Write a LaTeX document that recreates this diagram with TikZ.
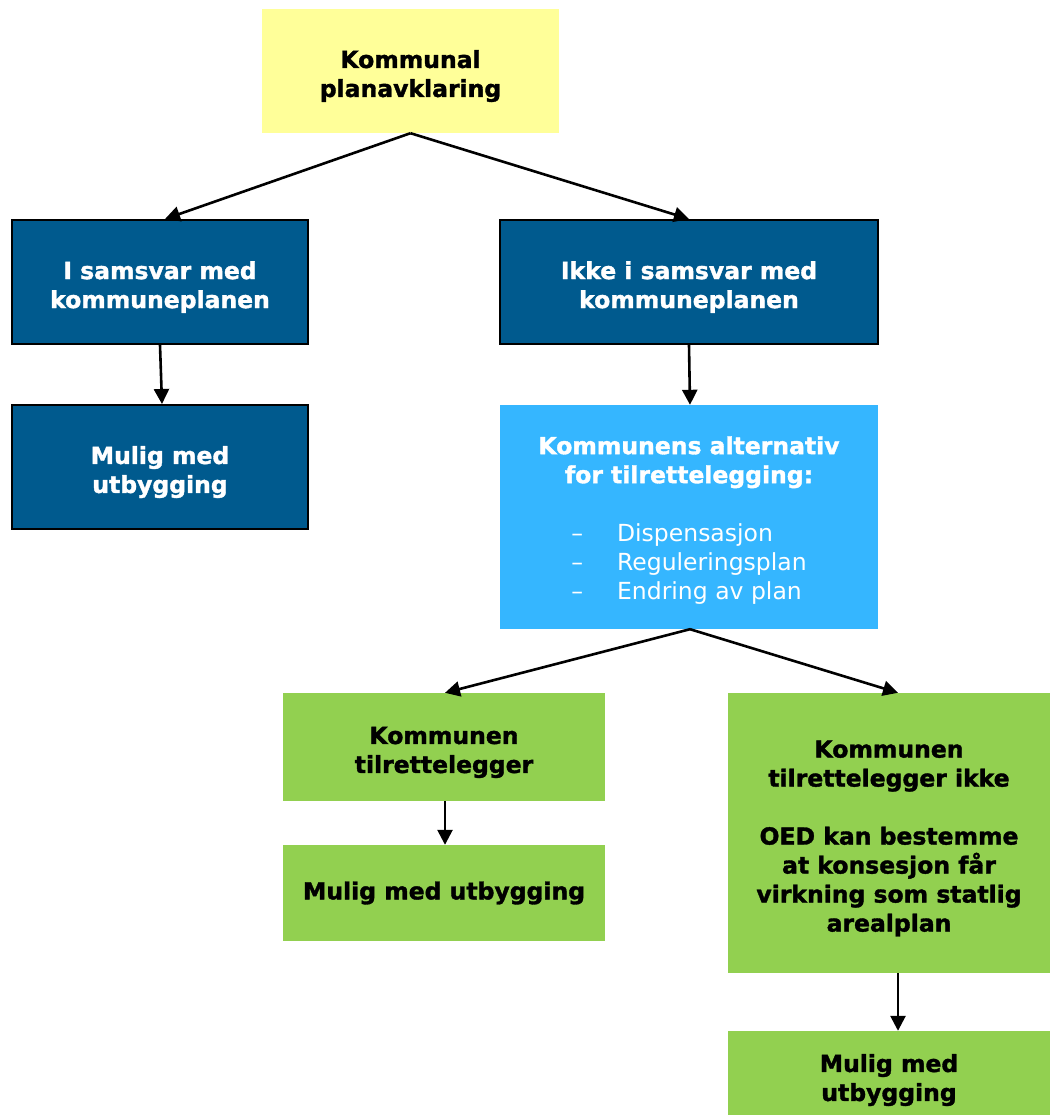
\documentclass[tikz,border=0pt]{standalone}
\usepackage{fontspec}
\setmainfont{DejaVu Sans}[BoldFeatures={FakeBold=1.5}]
\usetikzlibrary{arrows.meta}
\definecolor{dblue}{HTML}{005A8E}
\definecolor{lblue}{HTML}{35B6FF}
\definecolor{lgreen}{HTML}{92D050}
\definecolor{lyellow}{HTML}{FFFF99}
\newcommand\tfix{\rule{0pt}{28pt}}
\begin{document}
\begin{tikzpicture}[x=1pt,y=-1pt,
  box/.style={inner sep=0pt,align=center,font=\fontsize{23.5}{29}\selectfont\bfseries},
  darkbox/.style={box,fill=dblue,draw=black,line width=2pt,text=white},
  yelbox/.style={box,fill=lyellow,text=black},
  lbbox/.style={box,fill=lblue,text=white},
  grbox/.style={box,fill=lgreen,text=black},
  conn/.style={line width=2.6pt,draw=black,-{Triangle[length=15pt,width=15pt]}}]
\useasboundingbox[fill=white] (0,0) rectangle (1049,1115);
\node[yelbox,minimum width=297pt,minimum height=124pt] (top) at (410.5,71) {\tfix Kommunal\\planavklaring};
\node[darkbox,minimum width=296pt,minimum height=124pt] (a) at (160,282) {\tfix I samsvar med\\kommuneplanen};
\node[darkbox,minimum width=378pt,minimum height=124pt] (b) at (689,282) {\tfix Ikke i samsvar med\\kommuneplanen};
\node[darkbox,minimum width=296pt,minimum height=124pt] (c) at (160,467) {\tfix Mulig med\\utbygging};
\node[lbbox,minimum width=378pt,minimum height=224pt] (d) at (689,517) {\tfix Kommunens alternativ\\for tilrettelegging:\\[29pt]%
{\mdseries\begin{tabular}[t]{@{}l@{\hspace{34pt}}l@{}}–&Dispensasjon\\–&Reguleringsplan\\–&Endring av plan\end{tabular}}};
\node[grbox,minimum width=322pt,minimum height=108pt] (e) at (444,747) {\tfix Kommunen\\tilrettelegger};
\node[grbox,minimum width=322pt,minimum height=96pt] (f) at (444,893) {Mulig med utbygging};
\node[grbox,minimum width=322pt,minimum height=280pt] (g) at (889,833) {\tfix Kommunen\\tilrettelegger ikke\\[29pt]OED kan bestemme\\at konsesjon får\\virkning som statlig\\arealplan};
\node[grbox,minimum width=322pt,minimum height=88pt] (h) at (889,1075) {\tfix Mulig med\\utbygging};
\draw[conn] (top.south) -- ([xshift=5pt]a.north);
\draw[conn] (top.south) -- (b.north);
\draw[conn] (a.south) -- ([xshift=2pt]c.north);
\draw[conn] (b.south) -- ([xshift=1pt]d.north);
\draw[conn] ([xshift=1pt]d.south) -- ([xshift=1pt]e.north);
\draw[conn] ([xshift=1pt]d.south) -- ([xshift=9pt]g.north);
\draw[conn] ([xshift=1pt]e.south) -- ([xshift=1pt]f.north);
\draw[conn] ([xshift=9pt]g.south) -- ([xshift=9pt]h.north);
\end{tikzpicture}
\end{document}
